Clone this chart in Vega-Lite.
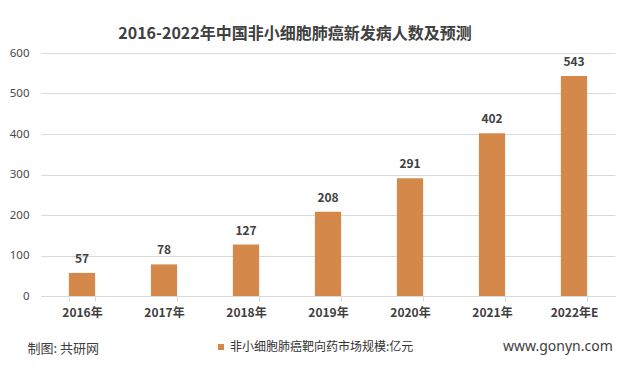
{
  "$schema": "https://vega.github.io/schema/vega-lite/v6.json",
  "autosize": "none",
  "width": 574,
  "height": 243,
  "padding": {"left": 41, "top": 53, "right": 6, "bottom": 79},
  "background": "white",
  "title": {
    "text": "2016-2022年中国非小细胞肺癌新发病人数及预测",
    "font": "Noto Sans CJK SC",
    "fontSize": 16,
    "fontWeight": "bold",
    "color": "#404040",
    "anchor": "middle",
    "frame": "group",
    "dx": -33,
    "offset": 5
  },
  "data": {
    "values": [
      {"year": "2016年", "value": 57, "series": "非小细胞肺癌靶向药市场规模:亿元"},
      {"year": "2017年", "value": 78, "series": "非小细胞肺癌靶向药市场规模:亿元"},
      {"year": "2018年", "value": 127, "series": "非小细胞肺癌靶向药市场规模:亿元"},
      {"year": "2019年", "value": 208, "series": "非小细胞肺癌靶向药市场规模:亿元"},
      {"year": "2020年", "value": 291, "series": "非小细胞肺癌靶向药市场规模:亿元"},
      {"year": "2021年", "value": 402, "series": "非小细胞肺癌靶向药市场规模:亿元"},
      {"year": "2022年E", "value": 543, "series": "非小细胞肺癌靶向药市场规模:亿元"}
    ]
  },
  "encoding": {
    "x": {
      "field": "year",
      "type": "nominal",
      "sort": null,
      "scale": {"paddingInner": 0.68, "paddingOuter": 0.34},
      "axis": {
        "title": "制图: 共研网",
        "titleFont": "Noto Sans CJK SC",
        "titleFontSize": 13,
        "titleFontWeight": "normal",
        "titleColor": "#404040",
        "titleAnchor": "start",
        "titleAlign": "left",
        "titleBaseline": "middle",
        "titleX": -14,
        "titleY": 52,
        "labelAngle": 0,
        "labelFont": "Noto Sans CJK SC",
        "labelFontSize": 12,
        "labelFontWeight": "bold",
        "labelColor": "#404040",
        "labelPadding": 6,
        "domainColor": "#D9D9D9",
        "tickColor": "#D9D9D9",
        "tickSize": 5,
        "tickBand": "extent",
        "grid": false
      }
    },
    "y": {
      "field": "value",
      "type": "quantitative",
      "scale": {"domain": [0, 600]},
      "axis": {
        "title": null,
        "values": [0, 100, 200, 300, 400, 500, 600],
        "labelFont": "Noto Sans",
        "labelFontSize": 11.5,
        "labelColor": "#4a4a4a",
        "labelPadding": 12,
        "ticks": false,
        "tickSize": 0,
        "domain": false,
        "grid": true,
        "gridColor": "#D9D9D9",
        "gridWidth": 1
      }
    }
  },
  "layer": [
    {
      "mark": {"type": "bar"},
      "encoding": {
        "color": {
          "field": "series",
          "type": "nominal",
          "scale": {"range": ["#D4894B"]},
          "legend": {
            "orient": "none",
            "legendX": 174,
            "legendY": 288,
            "direction": "horizontal",
            "title": "www.gonyn.com",
            "titleOrient": "right",
            "titlePadding": 90,
            "titleFont": "Noto Sans",
            "titleFontSize": 14,
            "titleFontWeight": "normal",
            "titleColor": "#404040",
            "titleBaseline": "middle",
            "symbolType": "square",
            "symbolSize": 36,
            "symbolStrokeWidth": 0,
            "labelFont": "Noto Sans CJK SC",
            "labelFontSize": 12,
            "labelColor": "#333333",
            "labelOffset": 3,
            "labelLimit": 400
          }
        }
      }
    },
    {
      "mark": {"type": "text", "baseline": "bottom", "dy": -7, "font": "Noto Sans CJK SC", "fontSize": 12, "fontWeight": "bold", "color": "#404040"},
      "encoding": {"text": {"field": "value", "type": "quantitative"}}
    }
  ],
  "config": {"view": {"stroke": null}}
}
